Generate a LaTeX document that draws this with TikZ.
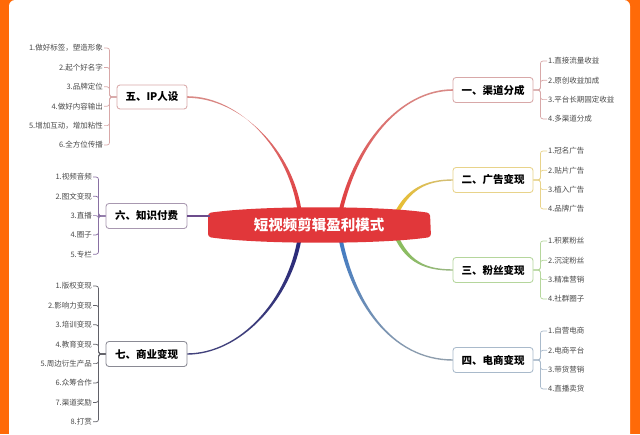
\documentclass[tikz,border=0pt]{standalone}
\usepackage{fontspec}
\setmainfont{Noto Sans CJK SC}
\usetikzlibrary{calc}
\definecolor{orangebg}{HTML}{FF6A08}
\definecolor{cred}{HTML}{E1373A}
\definecolor{salm}{HTML}{D98A86}
\definecolor{rosy}{HTML}{D8A8A8}
\definecolor{yelb}{HTML}{E8D38A}
\definecolor{yelc}{HTML}{E9BE2E}
\definecolor{grnb}{HTML}{B5D69C}
\definecolor{grnc}{HTML}{88BE5A}
\definecolor{blub}{HTML}{A9BACB}
\definecolor{bluc}{HTML}{3C78C4}
\definecolor{purb}{HTML}{A898B0}
\definecolor{purc}{HTML}{6C4C8C}
\definecolor{navb}{HTML}{8A8A94}
\definecolor{navc}{HTML}{28287A}
\definecolor{leaftxt}{HTML}{4A4A4A}
\tikzset{
  branch/.style={draw, line width=0.85pt, rounded corners=3pt, fill=white,
    minimum height=25pt, minimum width=80pt, inner sep=1pt,
    font=\fontsize{10.5}{12}\selectfont\bfseries, text=black},
  leafr/.style={anchor=west, inner sep=1pt, font=\fontsize{7.5}{9}\selectfont, text=leaftxt},
  leafl/.style={anchor=east, inner sep=1pt, font=\fontsize{7.5}{9}\selectfont, text=leaftxt},
  brk/.style={line width=0.7pt, rounded corners=2.5pt},
}
\begin{document}
\begin{tikzpicture}[x=1pt,y=-1pt]
\useasboundingbox (0,0) rectangle (640,434);
\fill[orangebg] (0,0) rectangle (640,434);
\fill[white, rounded corners=6pt] (9,0) rectangle (630,445);

% ---- tapered curves (drawn under centre node)
\shade[top color=salm, bottom color=cred]
  (338,214) .. controls (353,145) and (400,89.2) .. (453,89.2) -- (453,90.8)
  .. controls (400,90.8) and (357,145) .. (342,214) -- cycle;
\shade[top color=salm, bottom color=cred]
  (298,214) .. controls (290,150) and (240,96.2) .. (187,96.2) -- (187,97.8)
  .. controls (240,97.8) and (294,150) .. (302,214) -- cycle;
\shade[left color=yelc, right color=yelb!90!black]
  (394.2,213.2) .. controls (406.2,189.2) and (425,179.3) .. (453,179.3) -- (453,180.7)
  .. controls (425,180.7) and (409.8,190.8) .. (397.8,214.8) -- cycle;
\shade[left color=grnc, right color=grnb!85!black]
  (394.2,236.8) .. controls (406.2,262.8) and (425,270.7) .. (453,270.7) -- (453,269.3)
  .. controls (425,269.3) and (409.8,261.2) .. (397.8,235.2) -- cycle;
\shade[top color=bluc, bottom color=blub!85!black]
  (338,236) .. controls (350,300) and (390,360.7) .. (453,360.7) -- (453,359.3)
  .. controls (390,359.3) and (354,300) .. (342,236) -- cycle;
\shade[top color=navc, bottom color=navc!70!gray]
  (298,236) .. controls (288,300) and (240,353.3) .. (187,353.3) -- (187,354.7)
  .. controls (240,354.7) and (292,300) .. (302,236) -- cycle;

% ---- centre
\fill[cred, rounded corners=3pt]
  (208,213) .. controls (260,205.5) and (380,205.5) .. (430,213) -- (431,237)
  .. controls (380,244.5) and (260,244.5) .. (208,237) -- cycle;
\node[text=white, font=\fontsize{14.5}{16}\selectfont\bfseries, inner sep=0pt] (c) at (319,225) {短视频剪辑盈利模式};

% ---- branches
\node[branch, draw=rosy] (b1) at (493,90) {一、渠道分成};
\node[branch, draw=yelb] (b2) at (493,180) {二、广告变现};
\node[branch, draw=grnb] (b3) at (493,270) {三、粉丝变现};
\node[branch, draw=blub] (b4) at (493,360) {四、电商变现};
\node[branch, draw=rosy, minimum width=70pt, minimum height=24pt] (b5) at (152,97) {五、IP人设};
\node[branch, draw=purb, minimum width=81pt] (b6) at (146.5,216) {六、知识付费};
\node[branch, draw=navb, minimum width=81pt] (b7) at (146.5,354) {七、商业变现};

\coordinate (c6) at (210,216);
\draw[purc, line width=1.3pt] (b6.east) -- (c6);

% ---- leaves: right side
\foreach \t [count=\i, evaluate=\i as \yy using 61+19.3*(\i-1)] in
  {1.直接流量收益,2.原创收益加成,3.平台长期固定收益,4.多渠道分成}{
  \node[leafr] (l1\i) at (547,\yy) {\t};
  \draw[brk, rosy] (b1.east) -- ++(7,0) |- (l1\i.west);
}
\foreach \t [count=\i, evaluate=\i as \yy using 151+19.3*(\i-1)] in
  {1.冠名广告,2.贴片广告,3.植入广告,4.品牌广告}{
  \node[leafr] (l2\i) at (547,\yy) {\t};
  \draw[brk, yelb] (b2.east) -- ++(7,0) |- (l2\i.west);
}
\foreach \t [count=\i, evaluate=\i as \yy using 241+19.3*(\i-1)] in
  {1.积累粉丝,2.沉淀粉丝,3.精准营销,4.社群圈子}{
  \node[leafr] (l3\i) at (547,\yy) {\t};
  \draw[brk, grnb] (b3.east) -- ++(7,0) |- (l3\i.west);
}
\foreach \t [count=\i, evaluate=\i as \yy using 331+19.3*(\i-1)] in
  {1.自营电商,2.电商平台,3.带货营销,4.直播卖货}{
  \node[leafr] (l4\i) at (547,\yy) {\t};
  \draw[brk, blub] (b4.east) -- ++(7,0) |- (l4\i.west);
}
% ---- leaves: left side
\foreach \t [count=\i, evaluate=\i as \yy using 48+19.4*(\i-1)] in
  {1.做好标签，塑造形象,2.起个好名字,3.品牌定位,4.做好内容输出,5.增加互动，增加粘性,6.全方位传播}{
  \node[leafl] (l5\i) at (104,\yy) {\t};
  \draw[brk, rosy] (b5.west) -- ++(-7,0) |- (l5\i.east);
}
\foreach \t [count=\i, evaluate=\i as \yy using 177+19.3*(\i-1)] in
  {1.视频音频,2.图文变现,3.直播,4.圈子,5.专栏}{
  \node[leafl] (l6\i) at (93,\yy) {\t};
  \draw[brk, purc!80!white] (b6.west) -- ++(-7,0) |- (l6\i.east);
}
\foreach \t [count=\i, evaluate=\i as \yy using 286+19.4*(\i-1)] in
  {1.版权变现,2.影响力变现,3.培训变现,4.教育变现,5.周边衍生产品,6.众筹合作,7.渠道奖励,8.打赏}{
  \node[leafl] (l7\i) at (93,\yy) {\t};
  \draw[brk, navb!70!black] (b7.west) -- ++(-7,0) |- (l7\i.east);
}
\end{tikzpicture}
\end{document}
